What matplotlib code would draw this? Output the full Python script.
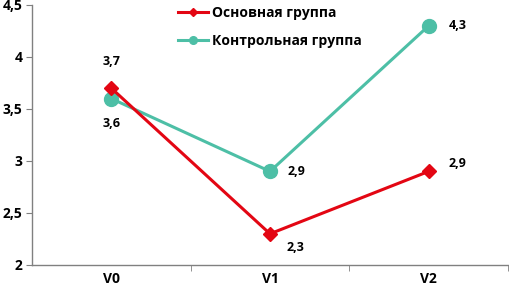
import matplotlib.pyplot as plt

categories = ['V0', 'V1', 'V2']
main_group = [3.7, 2.3, 2.9]
control_group = [3.6, 2.9, 4.3]
main_labels = ['3,7', '2,3', '2,9']
control_labels = ['3,6', '2,9', '4,3']
y_ticks = [2, 2.5, 3, 3.5, 4, 4.5]
y_tick_labels = ['2', '2,5', '3', '3,5', '4', '4,5']

plt.rcParams['font.family'] = ['Open Sans', 'DejaVu Sans']
plt.rcParams['font.weight'] = 'bold'

red = '#e30613'
teal = '#4dbfa6'

fig = plt.figure(figsize=(5.09, 2.88), dpi=100)
ax = fig.add_axes([32 / 509, 23 / 288, 476 / 509, 260 / 288])

x = list(range(len(categories)))
ax.plot(x, main_group, color=red, lw=2.2, marker='D', markersize=7,
        label='Основная группа', zorder=3)
ax.plot(x, control_group, color=teal, lw=2.2, marker='o', markersize=10,
        label='Контрольная группа', zorder=2)

# data labels (offsets in points)
main_offsets = [(0, 19), (18, -10), (21, 6)]
control_offsets = [(0, -18), (19, 0), (21, 0)]
for xi, v, lab, off in zip(x, main_group, main_labels, main_offsets):
    ax.annotate(lab, (xi, v), xytext=off, textcoords='offset points',
                ha='center', va='center', fontsize=9, fontweight='bold')
for xi, v, lab, off in zip(x, control_group, control_labels, control_offsets):
    ax.annotate(lab, (xi, v), xytext=off, textcoords='offset points',
                ha='center', va='center', fontsize=9, fontweight='bold')

ax.set_xlim(-0.5, 2.5)
ax.set_ylim(2, 4.5)
ax.set_yticks(y_ticks)
ax.set_yticklabels(y_tick_labels, fontsize=10, fontweight='bold')
ax.set_xticks(x)
ax.set_xticklabels(categories, fontsize=10, fontweight='bold')
ax.tick_params(axis='x', which='major', length=0, pad=5)
ax.set_xticks([0.5, 1.5, 2.5], minor=True)
ax.tick_params(axis='x', which='minor', length=4, color='#808080')
ax.tick_params(axis='y', length=4, color='#808080', pad=3)

for s in ['top', 'right']:
    ax.spines[s].set_visible(False)
for s in ['left', 'bottom']:
    ax.spines[s].set_color('#808080')
    ax.spines[s].set_linewidth(1)

ax.legend(loc='upper left', bbox_to_anchor=(0.28, 1.045), frameon=False,
          handlelength=2.2, labelspacing=1.0, handletextpad=0.25,
          markerscale=0.55, prop={'weight': 'bold', 'size': 10})

fig.savefig('out.png', dpi=100)
